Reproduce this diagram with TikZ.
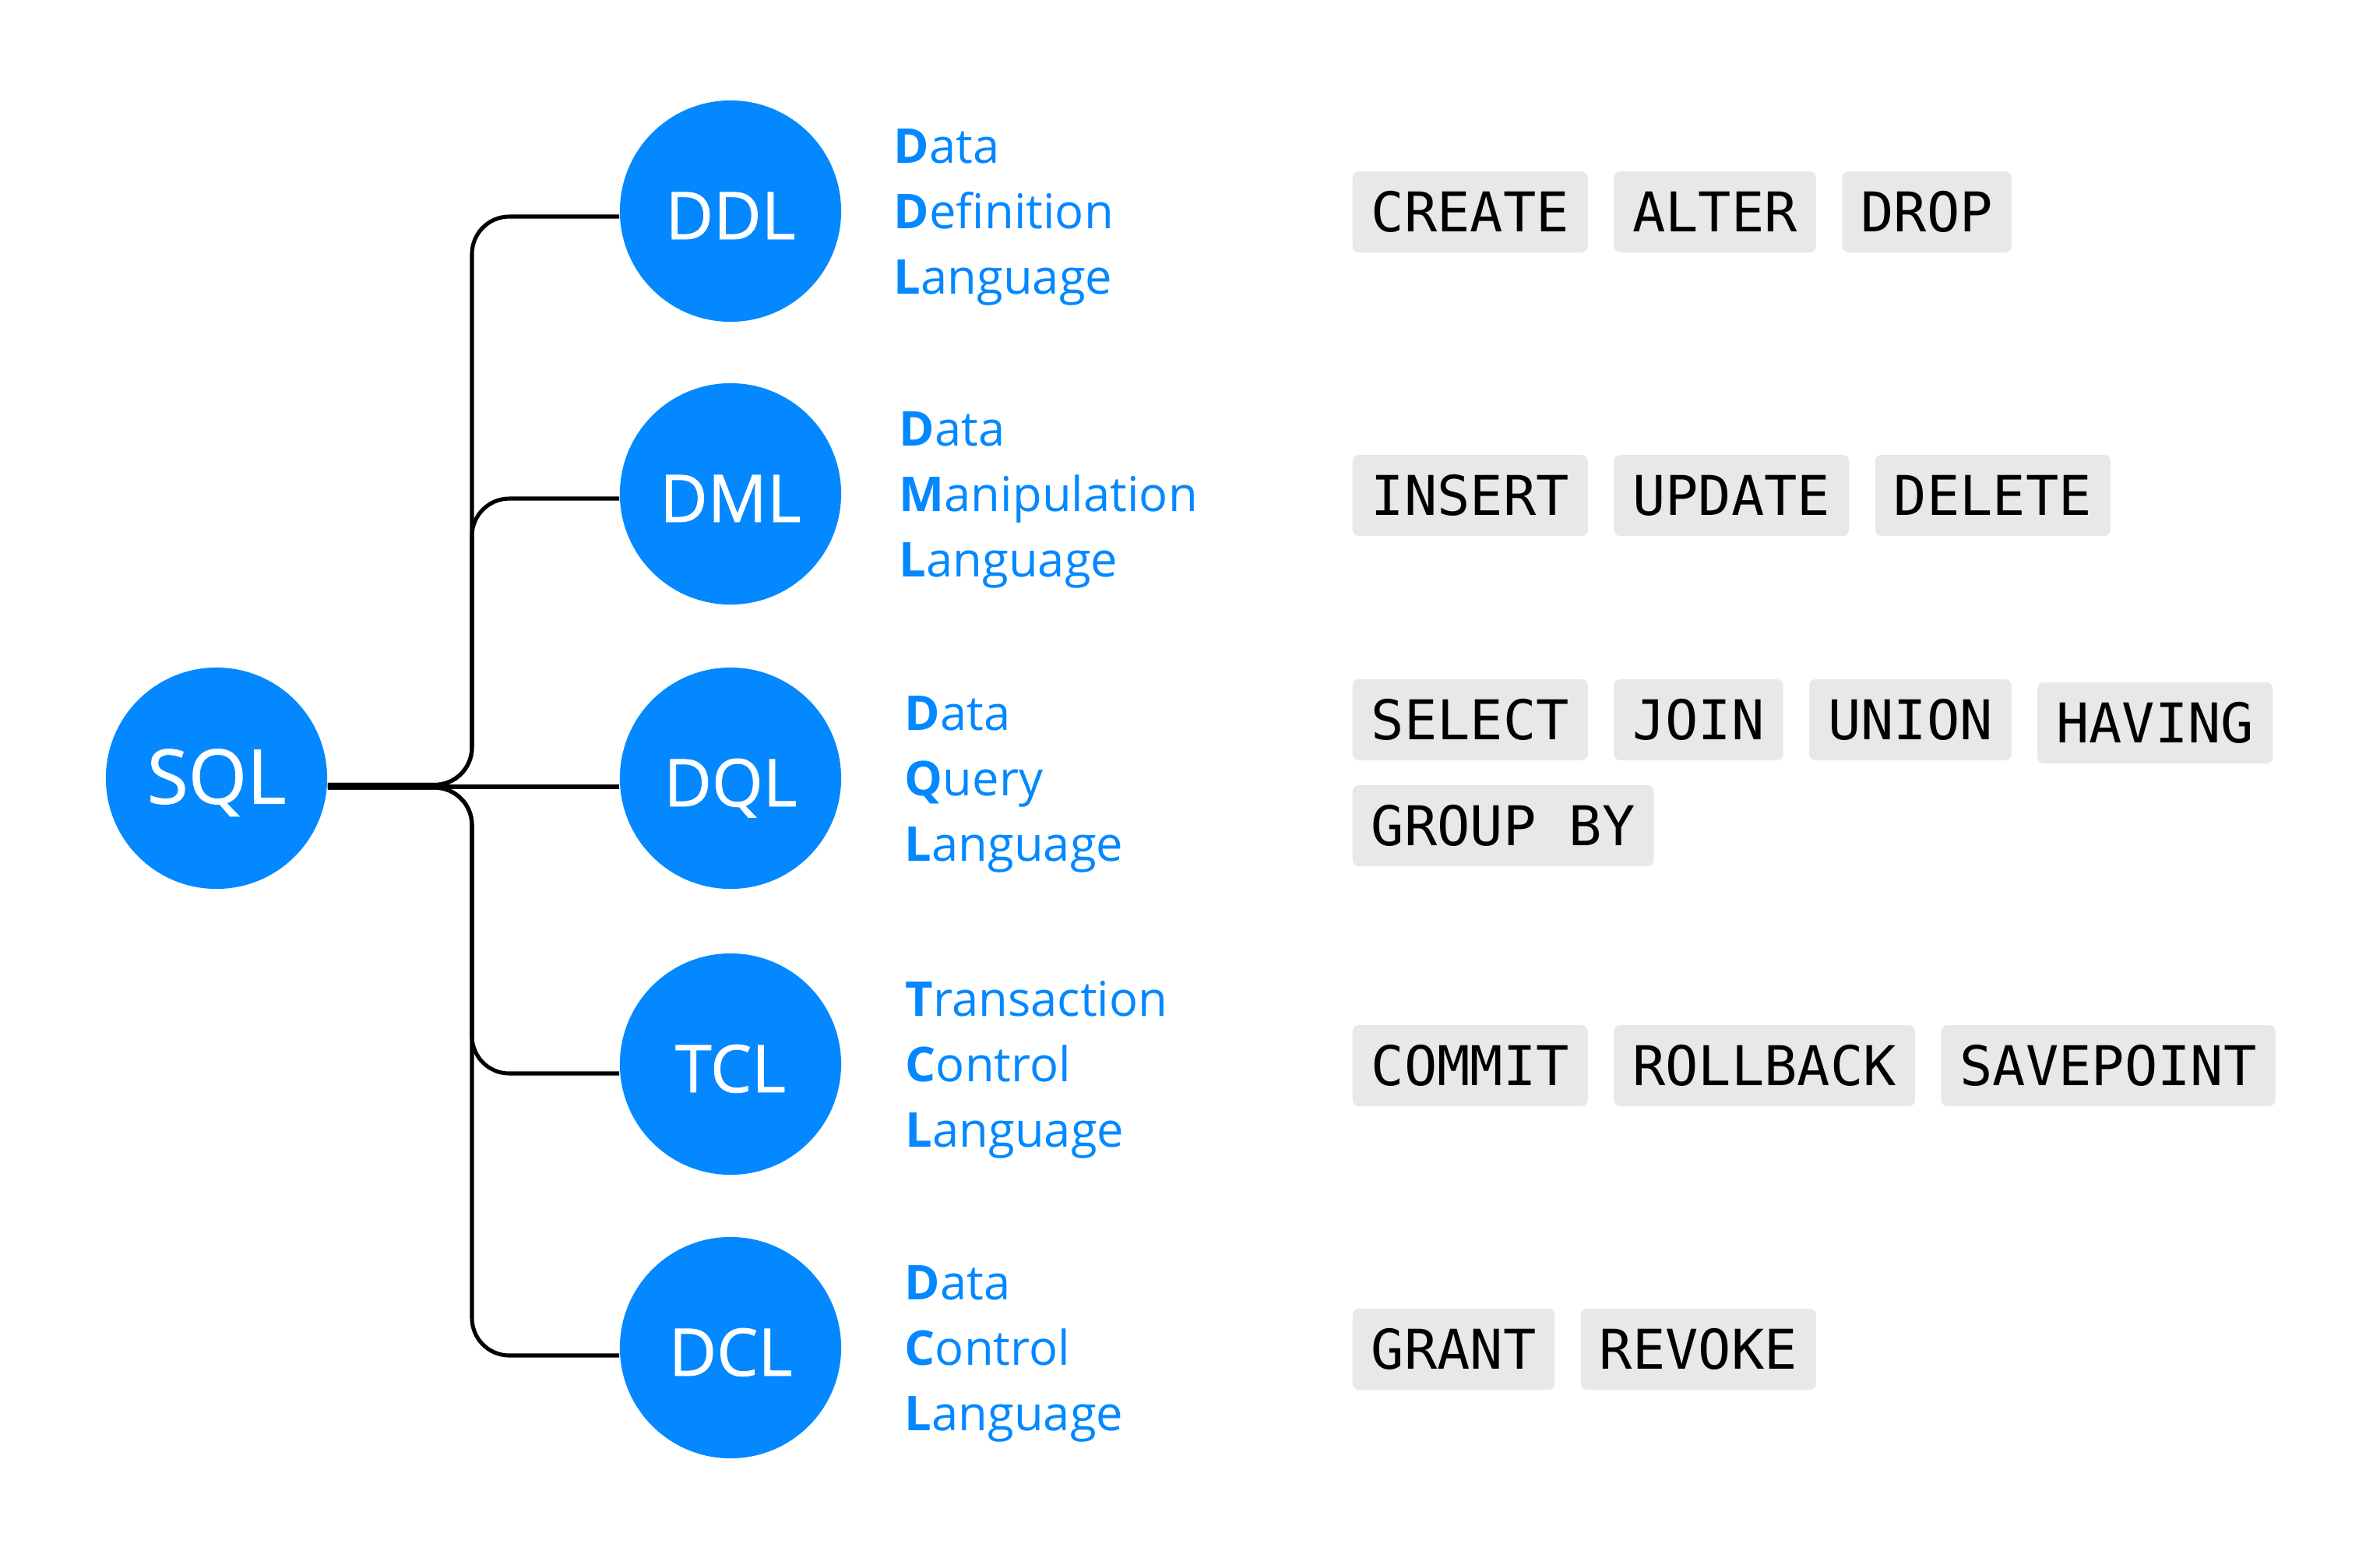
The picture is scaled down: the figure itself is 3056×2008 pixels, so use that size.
\documentclass[tikz,border=0pt]{standalone}
\usepackage{fontspec}
\setmainfont{Open Sans}
\setmonofont{DejaVu Sans Mono}
\newfontface\circfont{Open Sans}[FakeBold=0.9]
\usetikzlibrary{positioning}
\definecolor{sqlblue}{HTML}{0388FF}
\definecolor{taggray}{HTML}{E8E8E8}
\newcommand\lblset[6]{%
  \node[lbl] (#1a) at (#2,#3-84) {#4};
  \node[lbl] (#1b) at (#2,#3) {#5};
  \node[lbl] (#1c) at (#2,#3+84) {#6};
}
\begin{document}
\begin{tikzpicture}[x=0.01cm,y=-0.01cm,
  circ/.style={circle, fill=sqlblue, minimum size=2.84cm, inner sep=0pt, text=white,
    font=\circfont\fontsize{24}{28}\selectfont, text height=20.5pt, text depth=0pt},
  lbl/.style={anchor=base west, text=sqlblue, inner sep=0pt, font=\fontsize{17.5}{21}\selectfont},
  tag/.style={fill=taggray, rounded corners=0.08cm, font=\ttfamily\fontsize{20}{24}\selectfont,
    text=black, minimum height=1.04cm, text height=14.6pt, text depth=0pt,
    inner xsep=0.24cm, inner ysep=0pt},
  conn/.style={draw=black, line width=1.45pt, rounded corners=0.48cm},
  ]
\useasboundingbox (0,0) rectangle (3056,2008);

% circles
\node[circ, font=\circfont\fontsize{27.5}{32}\selectfont, text height=18.5pt] (SQL) at (278,999) {SQL};
\node[circ] (DDL) at (938,271) {DDL};
\node[circ] (DML) at (938,634) {DML};
\node[circ] (DQL) at (938,999) {DQL};
\node[circ] (TCL) at (938,1366) {TCL};
\node[circ] (DCL) at (938,1730) {DCL};

% connectors
\coordinate (trunk) at (606,999);
\coordinate (DDLin) at ([yshift=-0.07cm]DDL.west);
\coordinate (DMLin) at ([yshift=-0.06cm]DML.west);
\coordinate (DQLin) at ([yshift=-0.11cm]DQL.west);
\coordinate (TCLin) at ([yshift=-0.12cm]TCL.west);
\coordinate (DCLin) at ([yshift=-0.10cm]DCL.west);
\coordinate (SQLup) at ([yshift=-0.085cm]SQL.east);
\coordinate (SQLmid) at ([yshift=-0.11cm]SQL.east);
\coordinate (SQLdn) at ([yshift=-0.12cm]SQL.east);
\draw[conn] (SQLup) -| (trunk |- DDLin) -- (DDLin);
\draw[conn] (SQLup) -| (trunk |- DMLin) -- (DMLin);
\draw[conn] (SQLmid) -- (DQLin);
\draw[conn] (SQLdn) -| (trunk |- TCLin) -- (TCLin);
\draw[conn] (SQLdn) -| (trunk |- DCLin) -- (DCLin);

% labels
\lblset{ddl}{1147}{293}{\textbf{D}ata}{\textbf{D}efinition}{\textbf{L}anguage}
\lblset{dml}{1154}{656}{\textbf{D}ata}{\textbf{M}anipulation}{\textbf{L}anguage}
\lblset{dql}{1161}{1021}{\textbf{D}ata}{\textbf{Q}uery}{\textbf{L}anguage}
\lblset{tcl}{1162}{1388}{\textbf{T}ransaction}{\textbf{C}ontrol}{\textbf{L}anguage}
\lblset{dcl}{1161}{1752}{\textbf{D}ata}{\textbf{C}ontrol}{\textbf{L}anguage}

% tags
\node[tag, anchor=west] (create) at (1736,272) {CREATE};
\node[tag, right=0.32cm of create] (alter) {ALTER};
\node[tag, right=0.32cm of alter] (drop) {DROP};

\node[tag, anchor=west] (insert) at (1736,636) {INSERT};
\node[tag, right=0.32cm of insert] (update) {UPDATE};
\node[tag, right=0.32cm of update] (delete) {DELETE};

\node[tag, anchor=west] (select) at (1736,924) {SELECT};
\node[tag, right=0.32cm of select] (join) {JOIN};
\node[tag, right=0.32cm of join] (union) {UNION};
\node[tag, right=0.32cm of union, yshift=-0.04cm] (having) {HAVING};
\node[tag, anchor=west] (groupby) at (1736,1060) {GROUP BY};

\node[tag, anchor=west] (commit) at (1736,1368) {COMMIT};
\node[tag, right=0.32cm of commit] (rollback) {ROLLBACK};
\node[tag, right=0.32cm of rollback] (savepoint) {SAVEPOINT};

\node[tag, anchor=west] (grant) at (1736,1732) {GRANT};
\node[tag, right=0.32cm of grant] (revoke) {REVOKE};
\end{tikzpicture}
\end{document}
